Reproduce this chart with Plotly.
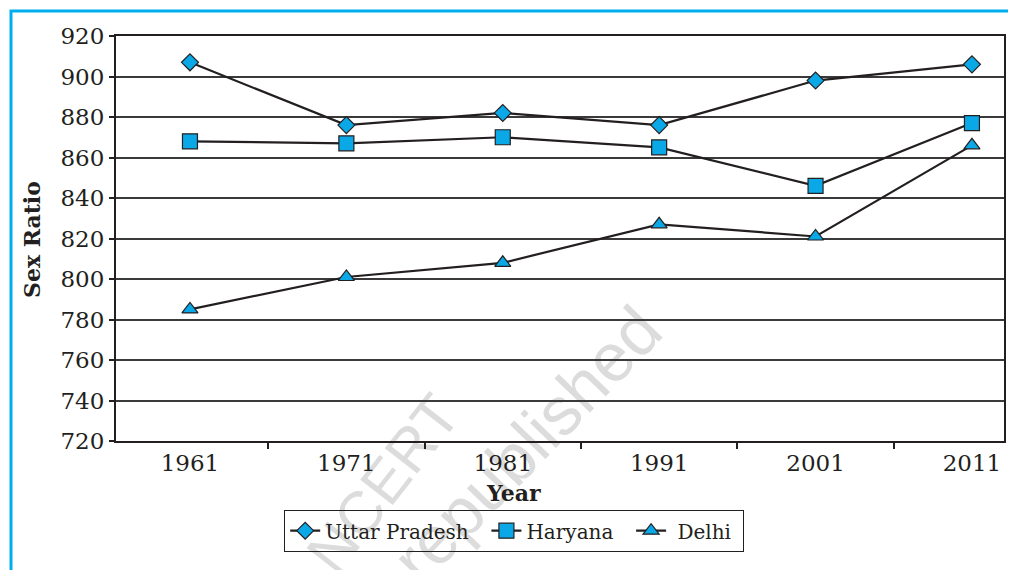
import math
import plotly.graph_objects as go

years = [1961, 1971, 1981, 1991, 2001, 2011]
uttar_pradesh = [907, 876, 882, 876, 898, 906]
haryana = [868, 867, 870, 865, 846, 877]
delhi = [785, 801, 808, 827, 821, 866]
series_names = ["Uttar Pradesh", "Haryana", "Delhi"]
y_ticks = [720, 740, 760, 780, 800, 820, 840, 860, 880, 900, 920]
between_ticks = [1966, 1976, 1986, 1996, 2006]

# page body has an 8px margin; build the figure in reference pixel coords
OFF = 8
W, H = 1016 - OFF, 570 - OFF
PL, PR, PT, PB = 116, 1004, 36, 441   # plot area in reference coords
L, T = PL - OFF, PT - OFF
R, B = W - (PR - OFF), H - (PB - OFF)
pw, ph = PR - PL, PB - PT

def px(xp):
    return (xp - PL) / pw

def py(yp):
    return (PB - yp) / ph

FONT = "DejaVu Serif"
MARK = "#0AA8E6"
LINE = "#231f20"
WM = "#dcdcdc"

legend_labels = [series_names[0] + "\u00a0\u00a0", series_names[1] + "\u00a0\u00a0",
                 "\u00a0" + series_names[2] + "\u00a0"]

fig = go.Figure()
symbols = ["diamond", "square", "triangle-up"]
sizes = [13, 15, 14]
for lab, vals, sym, sz in zip(legend_labels, [uttar_pradesh, haryana, delhi], symbols, sizes):
    fig.add_trace(go.Scatter(
        x=years, y=vals, name=lab, mode="lines+markers",
        line=dict(color=LINE, width=2.2),
        marker=dict(symbol=sym, size=sz, color=MARK, line=dict(color=LINE, width=1.2)),
    ))

def watermark(text, cx, cy, ang, size):
    d = 120
    dx, dy = math.cos(math.radians(ang)) * d, -math.sin(math.radians(ang)) * d
    return dict(type="line", xref="paper", yref="paper",
                x0=px(cx - dx), y0=py(cy - dy), x1=px(cx + dx), y1=py(cy + dy),
                line=dict(width=0, color="rgba(0,0,0,0)"), layer="below",
                label=dict(text=text, textposition="middle", textangle=-ang,
                           xanchor="center", yanchor="middle",
                           font=dict(family="Liberation Sans", size=size, color=WM)))

fig.update_layout(
    width=W, height=H,
    margin=dict(l=L, r=R, t=T, b=B, autoexpand=False),
    paper_bgcolor="white", plot_bgcolor="white",
    font=dict(family=FONT, color="#231f20", size=22),
    showlegend=True,
    legend=dict(
        orientation="h", x=px(514), xanchor="center", y=py(510), yanchor="top",
        bordercolor="#231f20", borderwidth=1.2, font=dict(family=FONT, size=20),
        bgcolor="rgba(0,0,0,0)", itemwidth=30, tracegroupgap=0,
    ),
    xaxis=dict(
        range=[1956.27, 2013.05], tickmode="array", tickvals=years,
        ticktext=[str(y) for y in years], ticks="", showgrid=False,
        showline=True, linecolor="#231f20", linewidth=2, mirror=True,
        zeroline=False, tickfont=dict(family=FONT, size=23), automargin=False,
        minor=dict(tickmode="array", tickvals=between_ticks, ticks="outside",
                   ticklen=6, tickcolor="#231f20", tickwidth=1.5, showgrid=False),
    ),
    yaxis=dict(
        range=[720, 920], tickmode="array", tickvals=y_ticks,
        showgrid=True, gridcolor="#3a3a3a", gridwidth=1.5,
        showline=True, linecolor="#231f20", linewidth=2, mirror=True,
        ticks="outside", ticklen=5, tickcolor="#231f20", tickwidth=1.5,
        zeroline=False, tickfont=dict(family=FONT, size=23), automargin=False,
    ),
    annotations=[
        dict(text="<b>Year</b>", x=px(513), y=py(493), xref="paper", yref="paper",
             xanchor="center", yanchor="middle",
             showarrow=False, font=dict(family=FONT, size=22)),
        dict(text="<b>Sex Ratio</b>", x=px(32), y=py(240), xref="paper", yref="paper",
             xanchor="center", yanchor="middle",
             showarrow=False, textangle=-90, font=dict(family=FONT, size=22)),
    ],
    shapes=[
        watermark("© NCERT", 360, 504, 52, 60),
        watermark("republished", 522, 440, 46, 68),
        dict(type="path", xref="paper", yref="paper",
             path=f"M {px(11)} {py(620)} L {px(11)} {py(11)} L {px(1100)} {py(11)}",
             line=dict(color="#00AEEF", width=3), layer="above"),
    ],
)

fig.write_html("out.html")
